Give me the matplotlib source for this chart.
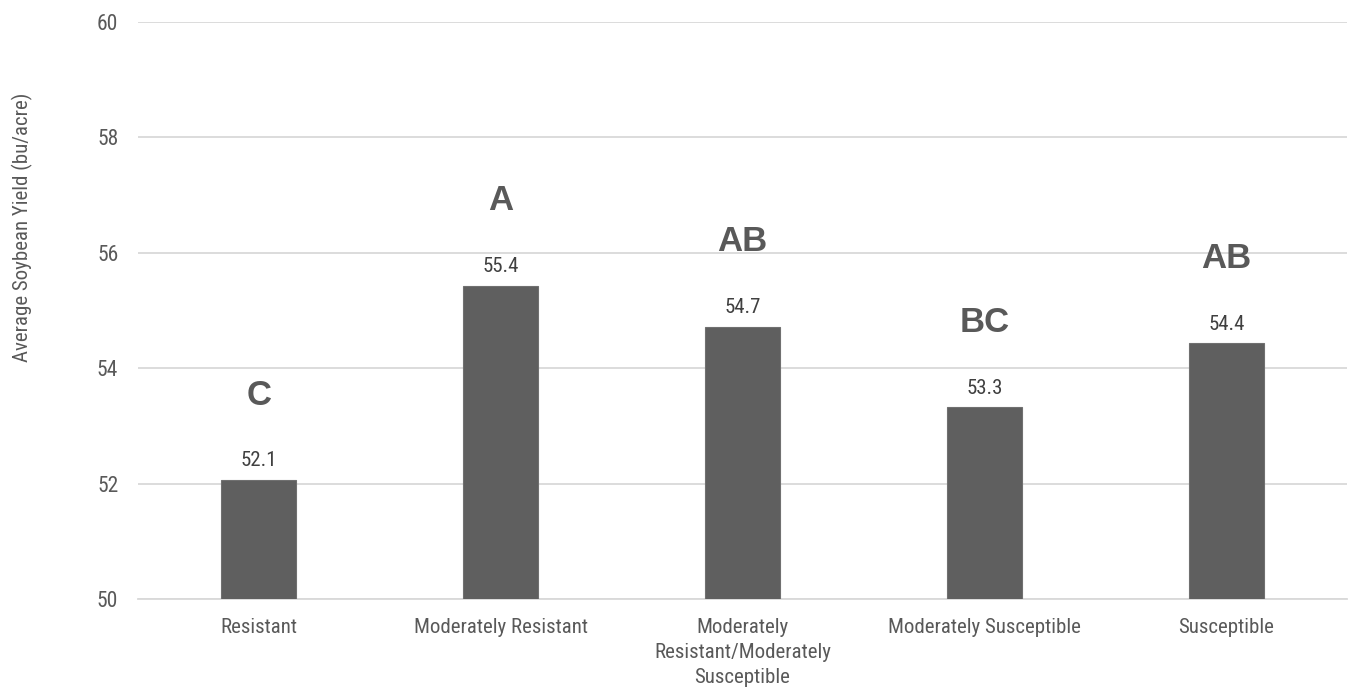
import matplotlib.pyplot as plt
from matplotlib import font_manager

categories = ['Resistant', 'Moderately Resistant', 'Moderately\nResistant/Moderately\nSusceptible',
              'Moderately Susceptible', 'Susceptible']
yields = [52.06, 55.43, 54.72, 53.32, 54.43]
yield_labels = ['52.1', '55.4', '54.7', '53.3', '54.4']
letters = ['C', 'A', 'AB', 'BC', 'AB']

names = {f.name for f in font_manager.fontManager.ttflist}
narrow = 'Roboto'
for cand in ['Roboto Condensed', 'Liberation Sans Narrow', 'Roboto']:
    if cand in names:
        narrow = cand
        break
text_color = '#595959'

fig = plt.figure(figsize=(13.5, 6.9), dpi=100)
ax = fig.add_axes([0.102, 0.132, 0.896, 0.836])

x = range(len(categories))
ax.bar(x, yields, width=0.31, color='#5f5f5f', edgecolor='#707070', linewidth=0.8, zorder=3)

for i, (v, lab, let) in enumerate(zip(yields, yield_labels, letters)):
    ax.text(i, v + 0.17, lab, ha='center', va='bottom', fontsize=15, color='#404040', family=narrow)
    ax.text(i, v + 1.47, let, ha='center', va='center', fontsize=25, fontweight='bold',
            color=text_color, family='Liberation Sans')

ax.set_ylim(50, 60)
ax.set_xlim(-0.5, len(categories) - 0.5)
ax.set_yticks([50, 52, 54, 56, 58, 60])
ax.set_xticks(list(x))
ax.set_xticklabels(categories, family=narrow, fontsize=15, color=text_color, linespacing=1.4)
for t in ax.get_yticklabels():
    t.set_family(narrow)
    t.set_fontsize(15.5)
    t.set_color(text_color)
ax.tick_params(length=0, pad=14)
ax.tick_params(axis='x', pad=14)
ax.grid(axis='y', color='#d9d9d9', linewidth=1.3, zorder=0)
for s in ['top', 'right', 'left']:
    ax.spines[s].set_visible(False)
ax.spines['bottom'].set_color('#d9d9d9')
ax.spines['bottom'].set_linewidth(1.3)

fig.text(0.017, 0.671, 'Average Soybean Yield (bu/acre)', rotation=90, ha='center', va='center',
         fontsize=15, color=text_color, family=narrow)

fig.savefig('out.png', dpi=100)
